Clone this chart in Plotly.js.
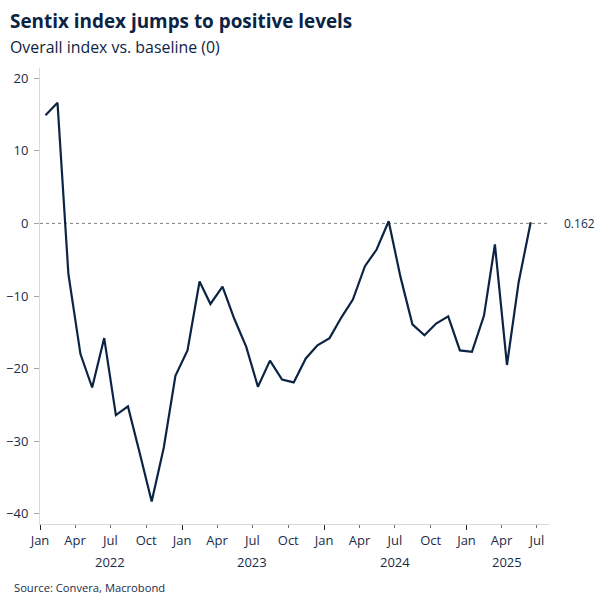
<!DOCTYPE html>
<html>
<head>
<meta charset="utf-8">
<script src="https://cdn.plot.ly/plotly-3.0.1.min.js"></script>
<style>
html,body{margin:0;padding:0;background:#fff;}
#chart{width:605px;height:605px;}
</style>
</head>
<body>
<div id="chart"></div>
<script>
// Monthly Sentix overall index, Jan 2022 - Jun 2025
const months = [
  "2022-01","2022-02","2022-03","2022-04","2022-05","2022-06","2022-07","2022-08","2022-09","2022-10","2022-11","2022-12",
  "2023-01","2023-02","2023-03","2023-04","2023-05","2023-06","2023-07","2023-08","2023-09","2023-10","2023-11","2023-12",
  "2024-01","2024-02","2024-03","2024-04","2024-05","2024-06","2024-07","2024-08","2024-09","2024-10","2024-11","2024-12",
  "2025-01","2025-02","2025-03","2025-04","2025-05","2025-06"
];
const sentix = [
  14.9, 16.6, -7.0, -18.0, -22.6, -15.8, -26.4, -25.2, -31.8, -38.3, -30.9, -21.0,
  -17.5, -8.0, -11.1, -8.7, -13.1, -17.0, -22.5, -18.9, -21.5, -21.9, -18.6, -16.8,
  -15.8, -12.9, -10.5, -5.9, -3.6, 0.3, -7.3, -13.9, -15.4, -13.8, -12.8, -17.5,
  -17.7, -12.7, -2.9, -19.5, -8.1, 0.162
];
const lastLabel = "0.162";
const baseline = 0;
const monthTickVals = [
  "2022-01-01","2022-04-01","2022-07-01","2022-10-01",
  "2023-01-01","2023-04-01","2023-07-01","2023-10-01",
  "2024-01-01","2024-04-01","2024-07-01","2024-10-01",
  "2025-01-01","2025-04-01","2025-07-01"
];
const monthTickText = ["Jan","Apr","Jul","Oct","Jan","Apr","Jul","Oct","Jan","Apr","Jul","Oct","Jan","Apr","Jul"];
const yearTickVals = ["2022-01-01","2023-01-01","2024-01-01","2025-01-01"];
const years = ["2022","2023","2024","2025"];
const yearLabelPos = ["2022-07-01","2023-07-01","2024-07-01","2025-04-16"];
const yTicks = [-40,-30,-20,-10,0,10,20];

const dates = months.map(m => m + "-15");
const navy = "#0c2444";
const textCol = "#1b2b48";
const FONT = "Open Sans, Noto Sans, sans-serif";
const xRange = ["2022-01-01","2025-08-01"];

const traces = [
  {
    x: xRange, y: [baseline, baseline], mode: "lines", xaxis: "x", yaxis: "y",
    line: {color: "#808080", width: 1, dash: "3px,3px"},
    hoverinfo: "skip", showlegend: false
  },
  {
    x: dates, y: sentix, mode: "lines", xaxis: "x", yaxis: "y",
    line: {color: navy, width: 2.2},
    showlegend: false
  },
  {
    x: dates, y: sentix, mode: "lines", xaxis: "x2", yaxis: "y",
    line: {color: "rgba(0,0,0,0)", width: 0},
    hoverinfo: "skip", showlegend: false
  }
];

const annotations = [
  {text: "<b>Sentix index jumps to positive levels</b>", xref: "paper", yref: "paper",
   x: (8-40)/509, y: (524-21)/456, xanchor: "left", yanchor: "middle", showarrow: false,
   font: {family: FONT, size: 18.9, color: navy}},
  {text: "Overall index vs. baseline (0)", xref: "paper", yref: "paper",
   x: (8-40)/509, y: (524-47)/456, xanchor: "left", yanchor: "middle", showarrow: false,
   font: {family: FONT, size: 15.9, color: navy}},
  {text: "Source: Convera, Macrobond", xref: "paper", yref: "paper",
   x: (12-40)/509, y: (524-587)/456, xanchor: "left", yanchor: "middle", showarrow: false,
   font: {family: FONT, size: 11.2, color: textCol}},
  {text: lastLabel, xref: "paper", yref: "y",
   x: (562-40)/509, y: baseline, xanchor: "left", yanchor: "middle", showarrow: false,
   font: {family: FONT, size: 12, color: textCol}}
];
years.forEach((yr, i) => {
  annotations.push({text: yr, xref: "x", yref: "paper", x: yearLabelPos[i], y: (524-562)/456,
    xanchor: "center", yanchor: "middle", showarrow: false,
    font: {family: FONT, size: 13, color: textCol}});
});

const layout = {
  width: 605, height: 605,
  margin: {l: 40, r: 56, t: 68, b: 81, pad: 0},
  paper_bgcolor: "#fff", plot_bgcolor: "#fff",
  showlegend: false,
  xaxis: {
    type: "date", range: xRange, showgrid: false, zeroline: false,
    showline: true, linecolor: "#d9d9d9", linewidth: 1,
    tickmode: "array", tickvals: monthTickVals, ticktext: monthTickText,
    ticks: "outside", ticklen: 3, tickwidth: 1, tickcolor: "#6e6e6e",
    tickfont: {family: FONT, size: 13, color: textCol},
    ticklabelstandoff: 1
  },
  xaxis2: {
    type: "date", range: xRange, overlaying: "x", side: "bottom", anchor: "y",
    showgrid: false, zeroline: false, showline: false,
    tickmode: "array", tickvals: yearTickVals, showticklabels: false,
    ticks: "outside", ticklen: 5, tickwidth: 1, tickcolor: "#222222"
  },
  yaxis: {
    range: [-41.4, 21.4], showgrid: false, zeroline: false,
    showline: true, linecolor: "#d9d9d9", linewidth: 1,
    tickmode: "array", tickvals: yTicks,
    ticks: "outside", ticklen: 5, tickwidth: 1, tickcolor: "#a6a6a6",
    tickfont: {family: FONT, size: 13, color: textCol},
    ticklabelstandoff: 3
  },
  annotations: annotations
};

Plotly.newPlot("chart", traces, layout, {displayModeBar: false, staticPlot: true});
</script>
</body>
</html>
